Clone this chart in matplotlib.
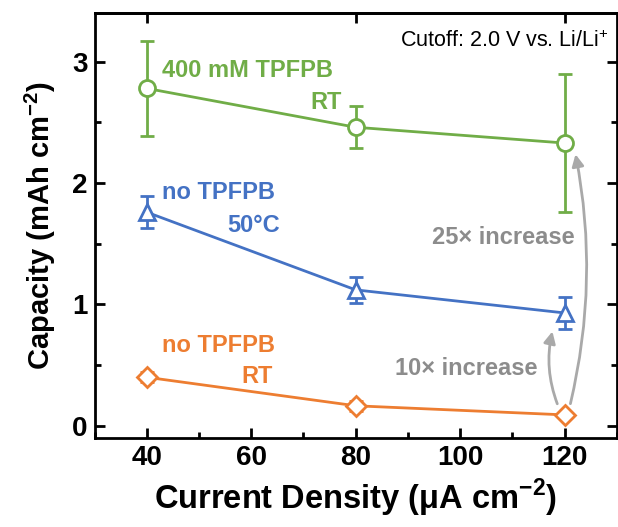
import numpy as np
import matplotlib
matplotlib.use("Agg")
import matplotlib.pyplot as plt
from matplotlib.patches import FancyArrowPatch
from matplotlib.ticker import MultipleLocator

# current density (uA cm^-2)
current = [40, 80, 120]

# 400 mM TPFPB, RT
cap_tpfpb = [2.78, 2.46, 2.33]
err_tpfpb = [0.39, 0.175, 0.565]

# no TPFPB, 50 C
cap_50c = [1.76, 1.12, 0.93]
err_50c = [0.13, 0.11, 0.13]

# no TPFPB, RT
cap_rt = [0.40, 0.165, 0.09]
err_rt = [0.04, 0.04, 0.02]

green = "#70ad47"
blue = "#4472c4"
orange = "#ed7d31"
grey_txt = "#8c8c8c"
grey_arr = "#a9a9a9"

plt.rcParams["font.family"] = ["Liberation Sans", "DejaVu Sans"]
plt.rcParams["mathtext.fontset"] = "custom"
plt.rcParams["mathtext.rm"] = "Liberation Sans"
plt.rcParams["mathtext.bf"] = "Liberation Sans:bold"

fig = plt.figure(figsize=(6.18, 5.27), dpi=100)
ax = fig.add_axes([0.153, 0.169, 0.845, 0.806])

series = [
    (cap_tpfpb, err_tpfpb, green, "o", 11.5),
    (cap_50c, err_50c, blue, "^", 12),
    (cap_rt, err_rt, orange, "D", 10.5),
]
for cap, err, col, mk, ms in series:
    ax.errorbar(
        current, cap, yerr=err, color=col, marker=mk, markersize=ms,
        markerfacecolor="white", markeredgecolor=col, markeredgewidth=2,
        linewidth=2, elinewidth=2, capsize=5, capthick=2, zorder=3,
    )

# labels for each series
fs = 17
ax.text(42.9, 2.93, "400 mM TPFPB", color=green, fontsize=fs,
        fontweight="bold", ha="left", va="center")
ax.text(77.4, 2.66, "RT", color=green, fontsize=fs,
        fontweight="bold", ha="right", va="center")
ax.text(42.9, 1.92, "no TPFPB", color=blue, fontsize=fs,
        fontweight="bold", ha="left", va="center")
ax.text(65.4, 1.65, "50°C", color=blue, fontsize=fs,
        fontweight="bold", ha="right", va="center")
ax.text(42.9, 0.66, "no TPFPB", color=orange, fontsize=fs,
        fontweight="bold", ha="left", va="center")
ax.text(64.2, 0.41, "RT", color=orange, fontsize=fs,
        fontweight="bold", ha="right", va="center")

ax.text(122.0, 1.55, "25× increase", color=grey_txt, fontsize=fs,
        fontweight="bold", ha="right", va="center")
ax.text(114.8, 0.475, "10× increase", color=grey_txt, fontsize=fs,
        fontweight="bold", ha="right", va="center")

ax.text(0.985, 0.935, "Cutoff: 2.0 V vs. Li/Li$^{+}$", transform=ax.transAxes,
        fontsize=15.5, ha="right", va="center")

# curved arrows
arr10 = FancyArrowPatch((118.8, 0.16), (117.8, 0.80),
                        connectionstyle="arc3,rad=-0.16",
                        arrowstyle="-|>,head_length=7,head_width=3.5",
                        color=grey_arr, lw=2, zorder=2)
arr25 = FancyArrowPatch((121.0, 0.16), (122.0, 2.26),
                        connectionstyle="arc3,rad=0.11",
                        arrowstyle="-|>,head_length=7,head_width=3.5",
                        color=grey_arr, lw=2, zorder=2)
ax.add_patch(arr10)
ax.add_patch(arr25)

ax.set_xlim(30, 130)
ax.set_ylim(-0.1, 3.4)
ax.xaxis.set_minor_locator(MultipleLocator(10))
ax.set_xticks([40, 60, 80, 100, 120])
ax.yaxis.set_major_locator(MultipleLocator(1))
ax.yaxis.set_minor_locator(MultipleLocator(0.5))

ax.tick_params(which="both", direction="in", width=2, labelsize=20,
               left=True, right=True, top=False, bottom=True)
ax.tick_params(which="major", length=7, pad=5)
ax.tick_params(which="minor", length=4)
for lab in ax.get_xticklabels() + ax.get_yticklabels():
    lab.set_fontweight("bold")

top = ax.secondary_xaxis("top")
top.set_xticks([40, 80, 120])
top.set_xticklabels([])
top.tick_params(direction="in", length=7, width=2)
top.xaxis.set_minor_locator(matplotlib.ticker.NullLocator())

for sp in ax.spines.values():
    sp.set_linewidth(2)
top.spines["top"].set_linewidth(2)

ax.set_xlabel(r"Current Density ($\mathbf{\mu}$A cm$^{\mathbf{-2}}$)",
              fontsize=23.5, fontweight="bold", labelpad=4)
ax.set_ylabel(r"Capacity (mAh cm$^{\mathbf{-2}}$)",
              fontsize=21, fontweight="bold", labelpad=10)

fig.savefig("out.png", dpi=100)
